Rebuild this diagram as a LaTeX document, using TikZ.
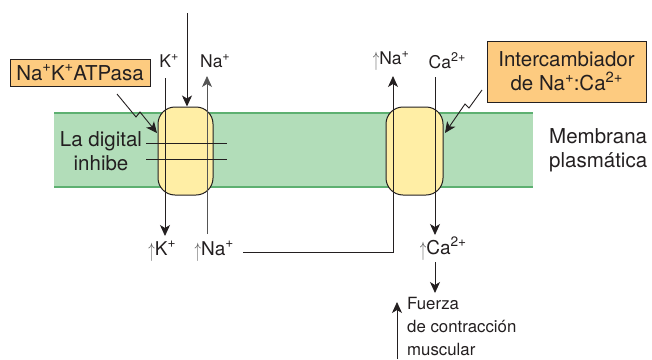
\documentclass[tikz,border=0pt]{standalone}
\usepackage{fontspec}
\usepackage{graphicx}
\setmainfont{TeX Gyre Heros}
\usetikzlibrary{arrows.meta}
\definecolor{memfill}{HTML}{B2DDB9}
\definecolor{memline}{HTML}{5DB071}
\definecolor{pumpfill}{HTML}{FFEEA5}
\definecolor{boxfill}{HTML}{FDCB80}
\definecolor{txt}{HTML}{231F20}
\definecolor{gline}{HTML}{555555}
\newcommand{\upar}{{\color{gline}\raisebox{-0.12em}{\scalebox{0.75}[1.2]{$\uparrow$}}}}
\newcommand{\sups}[1]{\raisebox{0.42em}{\scalebox{0.72}{#1}}}
\begin{document}
\begin{tikzpicture}[x=1pt,y=-1pt,
  every node/.style={text=txt, inner sep=0pt},
  lbl/.style={font=\fontsize{17.5}{20}\selectfont},
  blbl/.style={font=\fontsize{19}{22}\selectfont},
  big/.style={font=\fontsize{20.5}{24}\selectfont},
  obox/.style={draw=txt, fill=boxfill, line width=0.8pt, big},
  pump/.style={draw=txt, fill=pumpfill, line width=1pt, rounded corners=17pt},
  arr/.style={draw=txt, line width=0.9pt, -{Stealth[length=11pt,width=10pt,inset=3pt]}},
  ln/.style={draw=txt, line width=0.9pt}
]
\useasboundingbox (0,0) rectangle (652,359);
% membrane
\fill[memfill] (54,113) rectangle (533,187);
\draw[memline, line width=2.5pt] (54,113) -- (533,113);
\draw[memline, line width=2.5pt] (54,187) -- (533,187);
% pumps
\node[pump, minimum width=55pt, minimum height=88pt] (p1) at (185.5,151) {};
\node[pump, minimum width=57pt, minimum height=88pt] (p2) at (414.5,151) {};
% labels
\node[lbl] (k1) at (169,61) {K\sups{+}};
\node[lbl] (na1) at (215,61) {Na\sups{+}};
\node[lbl] (na2) at (391,61) {\upar Na\sups{+}};
\node[lbl] (ca1) at (447,61) {Ca\sups{2+}};
\node[blbl] (k2) at (162,251) {\upar K\sups{+}};
\node[blbl] (na3) at (214,251) {\upar Na\sups{+}};
\node[blbl] (ca2) at (443,249) {\upar Ca\sups{2+}};
\node[obox, minimum width=140pt, minimum height=27pt] (atp) at (80,72.5) {Na\sups{+}K\sups{+}ATPasa};
\node[obox, minimum width=159pt, minimum height=61pt, align=center] (ic) at (566.5,71.5) {Intercambiador\\de Na\sups{+}:Ca\sups{2+}};
\node[big, align=left, anchor=west] (mem) at (549,150) {Membrana\\plasmática};
\node[big, align=center] (dig) at (101,151) {La digital\\inhibe};
\node[align=left, anchor=north west, font=\fontsize{16.8}{23}\selectfont] (fz) at (407,297) {Fuerza\\de contracción\\muscular};
% coordinates
\coordinate (top) at (187,13);
\coordinate (kt) at (165,78);
\coordinate (kb) at (165,236);
\coordinate (nab) at (207,234);
\coordinate (nat) at (207,76);
\coordinate (i1a) at (146,143);
\coordinate (i1b) at (227,143);
\coordinate (i2a) at (146,159);
\coordinate (i2b) at (227,159);
\coordinate (nac) at (243,252);
\coordinate (nat2) at (393,76);
\coordinate (cat) at (435,77);
\coordinate (cab) at (435,235);
\coordinate (cf1) at (435,262);
\coordinate (cf2) at (435,293);
\coordinate (fb) at (397,359);
\coordinate (ft) at (397,302);
% connectors
\draw[arr] (top) -- (top |- p1.north);
\draw[arr] (kt) -- (kb);
\draw[arr, draw=gline] (nab) -- (nat);
\draw[ln] (i1a) -- (i1b);
\draw[ln] (i2a) -- (i2b);
\draw[arr] (nac) -| (nat2);
\draw[arr] (cat) -- (cab);
\draw[arr] (cf1) -- (cf2);
\draw[arr] (fb) -- (ft);
\draw[arr] (117,94) -- (136,117) -- (140,112) -- (157,133);
\draw[arr] (482,90) -- (469,108) -- (465,104) -- (445,133);
\end{tikzpicture}
\end{document}
